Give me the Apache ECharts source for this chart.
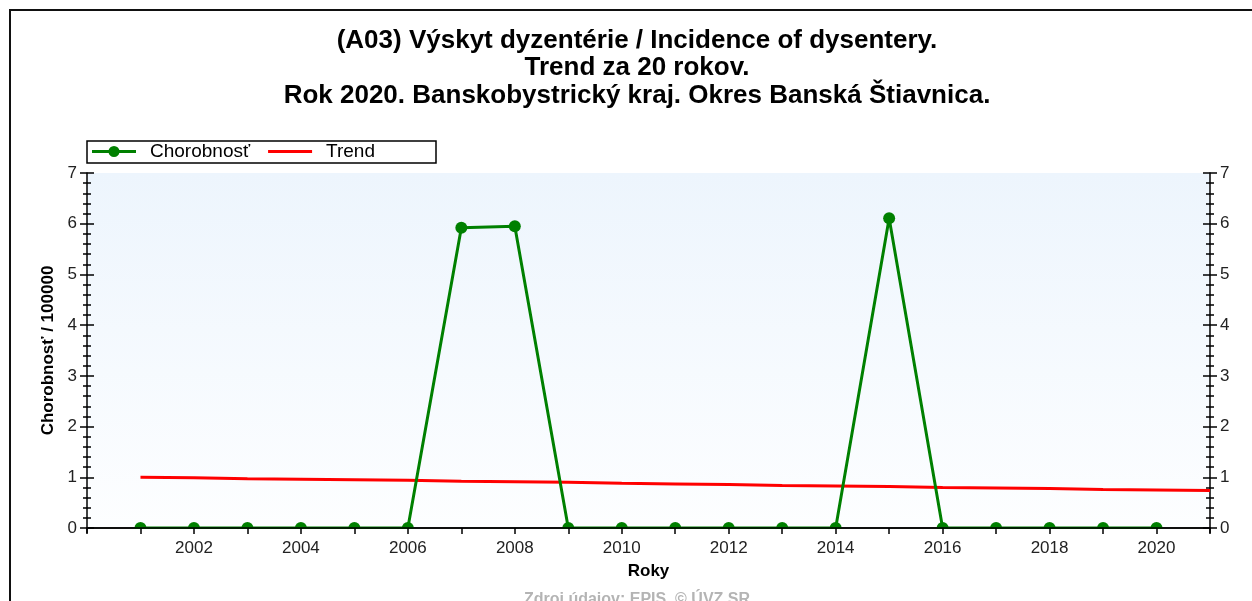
<!DOCTYPE html>
<html lang="sk">
<head>
<meta charset="UTF-8">
<title>Výskyt dyzentérie - Banská Štiavnica</title>
<script src="https://cdn.jsdelivr.net/npm/echarts@6/dist/echarts.min.js"></script>
<style>
  html, body { margin: 0; padding: 0; background: #fff; }
  #main { width: 1252px; height: 601px; }
</style>
</head>
<body>
<div id="main"></div>
<script>
// roky a hodnoty
var years = [2001, 2002, 2003, 2004, 2005, 2006, 2007, 2008, 2009, 2010,
             2011, 2012, 2013, 2014, 2015, 2016, 2017, 2018, 2019, 2020];
var chorobnost = [0, 0, 0, 0, 0, 0, 5.92, 5.95, 0, 0,
                  0, 0, 0, 0, 6.11, 0, 0, 0, 0, 0];
var trendYears = [2001, 2002, 2003, 2004, 2005, 2006, 2007, 2008, 2009, 2010, 2011,
                  2012, 2013, 2014, 2015, 2016, 2017, 2018, 2019, 2020, 2021];
var trend = [1.00, 0.99, 0.97, 0.96, 0.95, 0.94, 0.92, 0.91, 0.90, 0.88, 0.87,
             0.86, 0.84, 0.83, 0.82, 0.80, 0.79, 0.78, 0.76, 0.75, 0.74];
var titleLines = [
  '(A03) Výskyt dyzentérie / Incidence of dysentery.',
  'Trend za 20 rokov.',
  'Rok 2020. Banskobystrický kraj. Okres Banská Štiavnica.'
];

var G = { left: 87, right: 42, top: 173, bottom: 73 };
var W = 1252, H = 601;
var font = '"Liberation Sans", Arial, sans-serif';

// ikony legendy (rohové body držia rozmer 44x13)
var lineIcon = 'path://M0,0 L0.01,0 L0,0.01 Z M0,5 L44,5 L44,8 L0,8 Z M44,13 L43.99,13 L44,12.99 Z';
var dotIcon = 'path://M0,0 L0.01,0 L0,0.01 Z M0,5 L44,5 L44,8 L0,8 Z ' +
  'M16.5,6.5 A5.5,5.5 0 1 1 27.5,6.5 A5.5,5.5 0 1 1 16.5,6.5 Z M44,13 L43.99,13 L44,12.99 Z';

var myChart = echarts.init(document.getElementById('main'));

function pairs(xs, ys) {
  return xs.map(function (x, i) { return [x, ys[i]]; });
}

function yAx(pos, inside, labels) {
  return {
    type: 'value', position: pos, min: 0, max: 7, interval: 1,
    axisLine: { show: !inside, lineStyle: { color: '#000', width: 1.5 } },
    axisTick: { show: true, inside: inside, length: 7, lineStyle: { color: '#000', width: 1.5 } },
    minorTick: { show: true, splitNumber: 5, length: 4, lineStyle: { color: '#000', width: 1.5 } },
    axisLabel: { show: labels, color: '#222', fontSize: 17, fontFamily: font, margin: 10 },
    splitLine: { show: false }
  };
}

var option = {
  animation: false,
  backgroundColor: '#fff',
  textStyle: { fontFamily: font },
  title: {
    text: titleLines.join('\n'),
    left: 637, top: 27, padding: 0,
    textAlign: 'center',
    textStyle: { fontSize: 26, fontWeight: 'bold', color: '#000', lineHeight: 27.5, fontFamily: font }
  },
  legend: {
    left: 92, top: 142, padding: 0,
    itemWidth: 44, itemHeight: 13, itemGap: 18,
    textStyle: { fontSize: 19, color: '#000', fontFamily: font, padding: [0, 0, 0, 9] },
    data: [{ name: 'Chorobnosť', icon: dotIcon }, { name: 'Trend', icon: lineIcon }]
  },
  grid: {
    left: G.left, right: G.right, top: G.top, bottom: G.bottom,
    show: true, borderWidth: 0,
    backgroundColor: new echarts.graphic.LinearGradient(0, 0, 0, 1, [
      { offset: 0, color: '#edf5fd' },
      { offset: 1, color: '#fdfeff' }
    ])
  },
  xAxis: [{
    type: 'value', position: 'bottom', min: 2000, max: 2021, interval: 1, z: 10,
    name: 'Roky', nameLocation: 'middle', nameGap: 35,
    nameTextStyle: { fontSize: 17, fontWeight: 'bold', color: '#000', fontFamily: font },
    axisLine: { lineStyle: { color: '#000', width: 1.5 } },
    axisTick: { length: 6, lineStyle: { color: '#000', width: 1.5 } },
    axisLabel: {
      color: '#222', fontSize: 17, fontFamily: font, margin: 12,
      formatter: function (v) { return (v % 2 === 0 && v > 2000) ? String(v) : ''; }
    },
    splitLine: { show: false }
  }, {
    type: 'value', position: 'top', min: 2000, max: 2021, interval: 1,
    axisLine: { lineStyle: { color: '#000', width: 1.5 } },
    axisTick: { inside: true, length: 5, lineStyle: { color: '#000', width: 1.5 } },
    axisLabel: { show: false },
    splitLine: { show: false }
  }],
  yAxis: [
    Object.assign(yAx('left', false, true), {
      name: 'Chorobnosť / 100000', nameLocation: 'middle', nameGap: 30,
      nameTextStyle: { fontSize: 17, fontWeight: 'bold', color: '#000', fontFamily: font }
    }),
    yAx('left', true, false),
    yAx('right', false, true),
    yAx('right', true, false)
  ],
  graphic: [{
    type: 'polyline', silent: true, z: 100,
    shape: { points: [[10, H + 5], [10, 10], [W + 5, 10]] },
    style: { stroke: '#111', lineWidth: 2, fill: null }
  }, {
    // maska pod osou, aby sa body na nule zobrazili ako polkruhy
    type: 'rect', silent: true, z: 5,
    shape: { x: G.left + 1, y: H - G.bottom + 1, width: W - G.left - G.right - 2, height: 7 },
    style: { fill: '#fff' }
  }, {
    type: 'text', silent: true, z: 100,
    x: 637, y: 592,
    style: { text: 'Zdroj údajov: EPIS, © ÚVZ SR', fill: '#b4b4b4', font: 'bold 16px ' + font, align: 'center' }
  }, {
    type: 'rect', silent: true, z: 100,
    shape: { x: 87, y: 141, width: 349, height: 22 },
    style: { fill: null, stroke: '#000', lineWidth: 1.5 }
  }],
  series: [{
    name: 'Chorobnosť', type: 'line', z: 3,
    data: pairs(years, chorobnost),
    symbol: 'circle', symbolSize: 12,
    lineStyle: { color: '#008000', width: 3 },
    itemStyle: { color: '#008000' }
  }, {
    name: 'Trend', type: 'line', z: 2,
    data: pairs(trendYears, trend),
    symbol: 'none',
    lineStyle: { color: '#ff0000', width: 3 },
    itemStyle: { color: '#ff0000' }
  }]
};

myChart.setOption(option);
</script>
</body>
</html>
